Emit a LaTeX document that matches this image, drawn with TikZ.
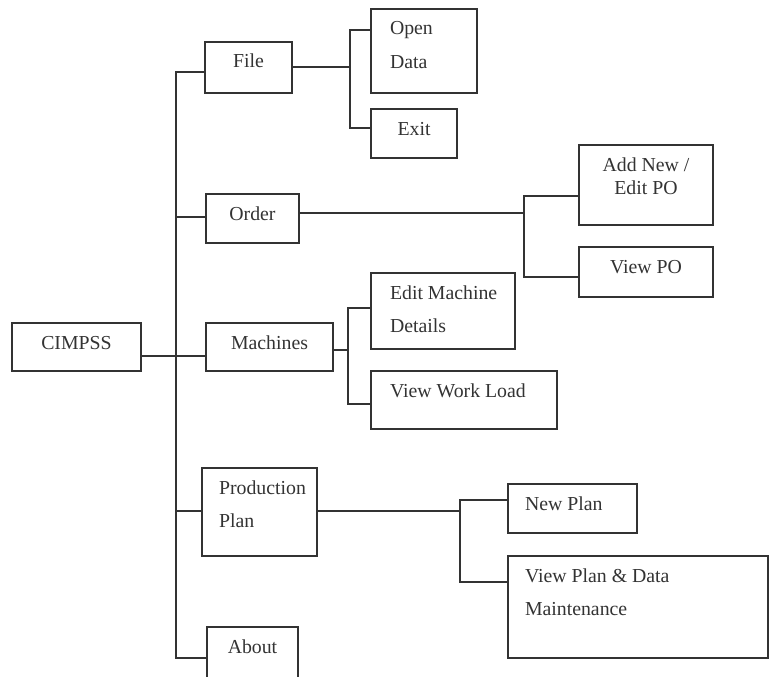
\documentclass[tikz,border=0pt]{standalone}
\usepackage{fontspec}
\setmainfont{Liberation Serif}
\definecolor{inkgray}{HTML}{333333}
\newcommand{\boxtext}[4]{\parbox[c][#2][t]{#1}{#3\rule{0pt}{26pt}#4}}
\newcommand{\lft}[1]{\raggedright\leftskip=#1\relax}

\begin{document}
\begin{tikzpicture}[x=1pt,y=-1pt,
  menubox/.style={draw=inkgray,line width=1.6pt,inner sep=0pt,text=inkgray,font=\fontsize{19.8}{33}\selectfont},
  link/.style={draw=inkgray,line width=1.6pt}]
\useasboundingbox (0,0) rectangle (769,677);

% boxes
\node[menubox] (cimpss) at (76.5,347) {\boxtext{129pt}{48pt}{\centering}{CIMPSS}};
\node[menubox] (file) at (248.5,67.5) {\boxtext{87pt}{51pt}{\centering}{File}};
\node[menubox] (order) at (252.5,218.5) {\boxtext{93pt}{49pt}{\centering}{Order}};
\node[menubox] (machines) at (269.5,347) {\boxtext{127pt}{48pt}{\centering}{Machines}};
\node[menubox] (prodplan) at (259.5,512) {\boxtext{115pt}{88pt}{\lft{17pt}}{Production\\Plan}};
\node[menubox] (about) at (252.5,656) {\boxtext{91pt}{58pt}{\centering}{About}};

\node[menubox] (opendata) at (424,51) {\boxtext{106pt}{84pt}{\lft{19pt}}{Open\\[1pt]Data}};
\node[menubox] (exit) at (414,133.5) {\boxtext{86pt}{49pt}{\centering}{Exit}};
\node[menubox,font=\fontsize{19.8}{23}\selectfont] (addpo) at (646,185) {\boxtext{134pt}{80pt}{\centering}{Add New /\\Edit PO}};
\node[menubox] (viewpo) at (646,272) {\boxtext{134pt}{50pt}{\centering}{View PO}};
\node[menubox] (editmach) at (443,311) {\boxtext{144pt}{76pt}{\lft{19pt}}{Edit Machine\\Details}};
\node[menubox] (workload) at (464,400) {\boxtext{186pt}{58pt}{\lft{19pt}}{View Work Load}};
\node[menubox] (newplan) at (572.5,508.5) {\boxtext{129pt}{49pt}{\lft{17pt}}{New Plan}};
\node[menubox] (viewplan) at (638,607) {\boxtext{260pt}{102pt}{\lft{17pt}}{View Plan \& Data\\Maintenance}};

% main trunk
\coordinate (trunktop) at (176,72);
\coordinate (trunkbot) at (176,658);
\coordinate (j-order) at (176,217);
\coordinate (j-mach) at (176,356);
\coordinate (j-prod) at (176,511);
\draw[link] (trunktop -| file.west) -- (trunktop) -- (trunkbot) -- (trunkbot -| about.west);
\draw[link] (j-order) -- (j-order -| order.west);
\draw[link] (j-mach -| cimpss.east) -- (j-mach -| machines.west);
\draw[link] (j-prod) -- (j-prod -| prodplan.west);

% sub menus
\coordinate (f-file) at (350,67);
\coordinate (f-file-a) at (350,30);
\coordinate (f-file-b) at (350,128);
\draw[link] (f-file -| file.east) -- (f-file);
\draw[link] (f-file-a -| opendata.west) -- (f-file-a) -- (f-file-b) -- (f-file-b -| exit.west);

\coordinate (f-order) at (524,213);
\coordinate (f-order-a) at (524,196);
\coordinate (f-order-b) at (524,277);
\draw[link] (f-order -| order.east) -- (f-order);
\draw[link] (f-order-a -| addpo.west) -- (f-order-a) -- (f-order-b) -- (f-order-b -| viewpo.west);

\coordinate (f-mach) at (348,350);
\coordinate (f-mach-a) at (348,308);
\coordinate (f-mach-b) at (348,404);
\draw[link] (f-mach -| machines.east) -- (f-mach);
\draw[link] (f-mach-a -| editmach.west) -- (f-mach-a) -- (f-mach-b) -- (f-mach-b -| workload.west);

\coordinate (f-prod) at (460,511);
\coordinate (f-prod-a) at (460,500);
\coordinate (f-prod-b) at (460,582);
\draw[link] (f-prod -| prodplan.east) -- (f-prod);
\draw[link] (f-prod-a -| newplan.west) -- (f-prod-a) -- (f-prod-b) -- (f-prod-b -| viewplan.west);

\end{tikzpicture}
\end{document}
